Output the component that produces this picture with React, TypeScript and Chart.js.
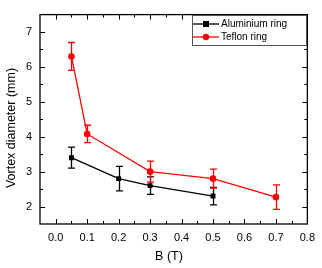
import React, { useEffect, useRef } from "react";
import { Chart, registerables } from "chart.js";
Chart.register(...registerables);

const alB = [0.05, 0.2, 0.3, 0.5];
const alD = [3.4, 2.8, 2.6, 2.3];
const alErr = [0.3, 0.35, 0.25, 0.25];
const tfB = [0.05, 0.1, 0.3, 0.5, 0.7];
const tfD = [6.3, 4.08, 3.0, 2.8, 2.27];
const tfErr = [0.4, 0.25, 0.3, 0.27, 0.35];
const xTickValues = [0, 0.1, 0.2, 0.3, 0.4, 0.5, 0.6, 0.7, 0.8];
const xMinorValues = [0.05, 0.15, 0.25, 0.35, 0.45, 0.55, 0.65, 0.75];
const yTickValues = [2, 3, 4, 5, 6, 7];
const yMinorValues = [2.5, 3.5, 4.5, 5.5, 6.5];
const seriesNames = ["Aluminium ring", "Teflon ring"];
const xTitle = "B (T)";
const yTitle = "Vortex diameter (mm)";

const FONT = "'Liberation Sans', Arial, sans-serif";
const RED = "#ff0000";
const BLACK = "#000000";

const framePlugin = {
  id: "frame",
  beforeDatasetsDraw(chart: any) {
    const { ctx } = chart;
    const xs = chart.scales.x;
    const ys = chart.scales.y;
    const errs = [alErr, tfErr];
    chart.data.datasets.forEach((ds: any, i: number) => {
      ctx.save();
      ctx.strokeStyle = ds.borderColor;
      ctx.lineWidth = 1.3;
      ds.data.forEach((p: any, j: number) => {
        const e = errs[i][j];
        const px = Math.round(xs.getPixelForValue(p.x)) + 0.5;
        const top = ys.getPixelForValue(p.y + e);
        const bot = ys.getPixelForValue(p.y - e);
        ctx.beginPath();
        ctx.moveTo(px, top);
        ctx.lineTo(px, bot);
        ctx.moveTo(px - 3.5, top);
        ctx.lineTo(px + 3.5, top);
        ctx.moveTo(px - 3.5, bot);
        ctx.lineTo(px + 3.5, bot);
        ctx.stroke();
      });
      ctx.restore();
    });
  },
  afterDraw(chart: any) {
    const { ctx, chartArea: a } = chart;
    const xs = chart.scales.x;
    const ys = chart.scales.y;
    ctx.save();
    ctx.strokeStyle = BLACK;
    ctx.lineWidth = 1.3;
    ctx.strokeRect(a.left, a.top, a.right - a.left, a.bottom - a.top);
    ctx.lineWidth = 1;
    ctx.beginPath();
    const tx = (v: number, len: number) => {
      const p = Math.round(xs.getPixelForValue(v)) + 0.5;
      ctx.moveTo(p, a.bottom);
      ctx.lineTo(p, a.bottom - len);
      ctx.moveTo(p, a.top);
      ctx.lineTo(p, a.top + len);
    };
    const ty = (v: number, len: number) => {
      const p = Math.round(ys.getPixelForValue(v)) + 0.5;
      ctx.moveTo(a.left, p);
      ctx.lineTo(a.left + len, p);
      ctx.moveTo(a.right, p);
      ctx.lineTo(a.right - len, p);
    };
    xTickValues.forEach((v) => tx(v, 5));
    xMinorValues.forEach((v) => tx(v, 3));
    yTickValues.forEach((v) => ty(v, 5));
    yMinorValues.forEach((v) => ty(v, 3));
    ctx.stroke();

    // axis titles
    ctx.fillStyle = BLACK;
    ctx.font = `12.5px ${FONT}`;
    ctx.textAlign = "center";
    ctx.textBaseline = "middle";
    ctx.fillText(xTitle, 169, 257);
    ctx.save();
    ctx.translate(12, 128);
    ctx.rotate(-Math.PI / 2);
    ctx.fillText(yTitle, 0, 0);
    ctx.restore();

    // legend
    const lx = 192, ly = 15, lw = 114, lh = 30;
    ctx.fillStyle = "#ffffff";
    ctx.fillRect(lx, ly, lw, lh);
    ctx.strokeStyle = "#555555";
    ctx.lineWidth = 1;
    ctx.strokeRect(lx + 0.5, ly + 0.5, lw, lh);
    const rows = [24, 37];
    chart.data.datasets.forEach((ds: any, i: number) => {
      const y = rows[i];
      ctx.strokeStyle = ds.borderColor;
      ctx.lineWidth = 1.3;
      ctx.beginPath();
      ctx.moveTo(lx + 1, y);
      ctx.lineTo(lx + 27, y);
      ctx.stroke();
      ctx.fillStyle = ds.borderColor;
      if (i === 0) {
        ctx.fillRect(lx + 14 - 3, y - 3, 6, 6);
      } else {
        ctx.beginPath();
        ctx.arc(lx + 14, y, 3.2, 0, Math.PI * 2);
        ctx.fill();
      }
      ctx.fillStyle = BLACK;
      ctx.font = `10px ${FONT}`;
      ctx.textAlign = "left";
      ctx.textBaseline = "middle";
      ctx.fillText(ds.label, lx + 29, y);
    });
    ctx.restore();
  },
};

export default function App() {
  const ref = useRef<HTMLCanvasElement>(null);
  useEffect(() => {
    if (!ref.current) return;
    const chart = new Chart(ref.current, {
      type: "line",
      data: {
        datasets: [
          {
            label: seriesNames[0],
            data: alB.map((x, i) => ({ x, y: alD[i] })),
            borderColor: BLACK,
            backgroundColor: BLACK,
            borderWidth: 1.3,
            pointStyle: "rect",
            pointRadius: 3.5,
            pointBorderWidth: 0,
          },
          {
            label: seriesNames[1],
            data: tfB.map((x, i) => ({ x, y: tfD[i] })),
            borderColor: RED,
            backgroundColor: RED,
            borderWidth: 1.3,
            pointStyle: "circle",
            pointRadius: 3.3,
            pointBorderWidth: 0,
          },
        ],
      },
      options: {
        responsive: false,
        animation: false,
        layout: { padding: { top: 7, right: 11, left: 0, bottom: 0 } },
        plugins: { legend: { display: false }, tooltip: { enabled: false } },
        scales: {
          x: {
            type: "linear",
            min: -0.05,
            max: 0.8,
            grid: { display: false, drawTicks: false },
            border: { display: false },
            afterBuildTicks: (s: any) => {
              s.ticks = xTickValues.map((v) => ({ value: v }));
            },
            afterFit: (s: any) => {
              s.height = 44;
            },
            ticks: {
              autoSkip: false,
              maxRotation: 0,
              padding: 7,
              color: BLACK,
              font: { size: 11, family: FONT },
              callback: (v: any) => Number(v).toFixed(1),
            },
          },
          y: {
            type: "linear",
            min: 1.5,
            max: 7.5,
            grid: { display: false, drawTicks: false },
            border: { display: false },
            afterBuildTicks: (s: any) => {
              s.ticks = yTickValues.map((v) => ({ value: v }));
            },
            afterFit: (s: any) => {
              s.width = 40;
            },
            ticks: {
              padding: 8,
              color: BLACK,
              font: { size: 11, family: FONT },
              callback: (v: any) => String(v),
            },
          },
        },
      },
      plugins: [framePlugin],
    } as any);
    return () => chart.destroy();
  }, []);
  return (
    <div style={{ position: "absolute", left: 0, top: 0, width: 322, height: 268, background: "#fff" }}>
      <canvas ref={ref} width={322} height={268} />
    </div>
  );
}
